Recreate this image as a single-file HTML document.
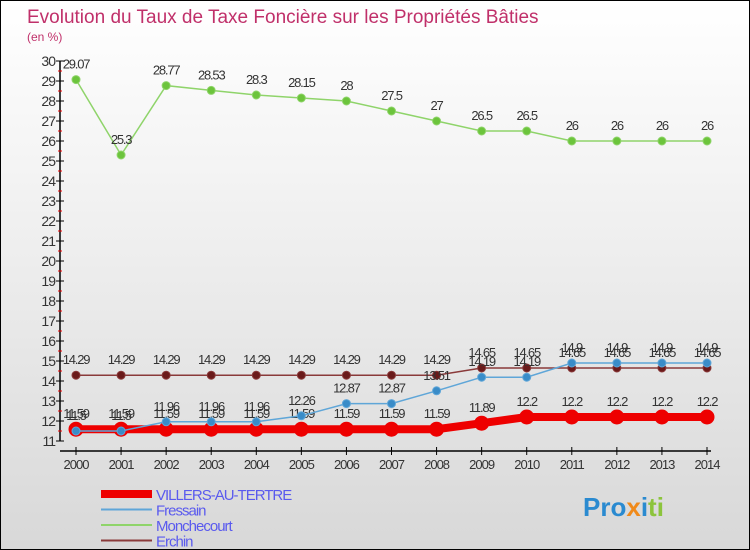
<!DOCTYPE html>
<html><head><meta charset="utf-8"><style>
body{margin:0}
#c{width:748px;height:548px;border:1px solid #000;background:linear-gradient(#fff,#f4f4f4 30%,#d8d8d8);position:relative;overflow:hidden;font-family:"Liberation Sans",sans-serif}
</style></head><body>
<div id="c">
<svg id="s" width="748" height="548" xmlns="http://www.w3.org/2000/svg" style="position:absolute;left:0;top:0">
<text x="26" y="22" font-size="19" fill="#c0306a">Evolution du Taux de Taxe Foncière sur les Propriétés Bâties</text>
<text x="26" y="40" font-size="12" fill="#c0306a">(en %)</text>
</svg>
</div>
<script>
const years=[2000,2001,2002,2003,2004,2005,2006,2007,2008,2009,2010,2011,2012,2013,2014];
const villers=[11.59,11.59,11.59,11.59,11.59,11.59,11.59,11.59,11.59,11.89,12.2,12.2,12.2,12.2,12.2];
const fressain=[11.5,11.5,11.96,11.96,11.96,12.26,12.87,12.87,13.51,14.19,14.19,14.9,14.9,14.9,14.9];
const monchecourt=[29.07,25.3,28.77,28.53,28.3,28.15,28,27.5,27,26.5,26.5,26,26,26,26];
const erchin=[14.29,14.29,14.29,14.29,14.29,14.29,14.29,14.29,14.29,14.65,14.65,14.65,14.65,14.65,14.65];
const yTicks=[11,12,13,14,15,16,17,18,19,20,21,22,23,24,25,26,27,28,29,30];
const NS="http://www.w3.org/2000/svg",s=document.getElementById('s');
const X=i=>75+i*(631/14), Y=v=>60+(30-v)*20;
function el(t,a,p){const e=document.createElementNS(NS,t);for(const k in a)e.setAttribute(k,a[k]);(p||s).appendChild(e);return e;}
const ax=el('g',{});


el('line',{x1:59,y1:Y(30),x2:59,y2:Y(11),stroke:'#000','stroke-width':1.5},ax);
el('line',{x1:59,y1:450,x2:710,y2:450,stroke:'#000','stroke-width':1.5},ax);
yTicks.forEach(v=>{
 el('line',{x1:55,y1:Y(v),x2:63,y2:Y(v),stroke:'#000'},ax);
 if(v<30) el('line',{x1:57,y1:Y(v+0.5),x2:61,y2:Y(v+0.5),stroke:'#e00'},ax);
 const t=el('text',{x:54,y:Y(v)+5,'font-size':14,fill:'#333','text-anchor':'end','letter-spacing':'-1'},ax);t.textContent=v;
 
 
});
years.forEach((yr,i)=>{
 el('line',{x1:X(i),y1:446,x2:X(i),y2:454,stroke:'#000'},ax);
 const t=el('text',{x:X(i),y:468,'font-size':13,fill:'#333','text-anchor':'middle','letter-spacing':'-1'},ax);t.textContent=yr;
 
 
});
function series(name,data,color,w,r,dot){
 const g=el('g',{});
 
 
 el('polyline',{points:data.map((v,i)=>X(i)+','+Y(v)).join(' '),fill:'none',stroke:color,'stroke-width':w},g);
 data.forEach((v,i)=>{
  const c=el('circle',{cx:X(i),cy:Y(v),r:r,fill:dot,stroke:color},g);
  
  
  const t=el('text',{x:X(i),y:Y(v)-11,'font-size':13,fill:'#333','text-anchor':'middle','letter-spacing':'-1.2'},g);t.textContent=v;
  
  
 });
}
series('monchecourt',monchecourt,'#8fd46a',1.5,4,'#6cc43c');
series('erchin',erchin,'#8a3a3a',1.5,4,'#6a1a1a');
series('villers',villers,'#ee0000',8,7,'#ee0000');
series('fressain',fressain,'#5fa6d8',1.5,4,'#3a8cc8');
const lg=el('g',{});


[['VILLERS-AU-TERTRE','#ee0000',8],['Fressain','#5fa6d8',2],['Monchecourt','#8fd46a',2],['Erchin','#8a3a3a',2]].forEach((d,i)=>{
 const y=493+i*15.5;
 el('line',{x1:100,y1:y,x2:151,y2:y,stroke:d[1],'stroke-width':d[2]},lg);
 const t=el('text',{x:155,y:y+6,'font-size':15,fill:'#5a5aee','letter-spacing':'-1'},lg);t.textContent=d[0];
 
 
});
const lo=el('text',{x:582,y:515,'font-size':26,'font-weight':'bold',fill:'#2a8ad0'});


lo.innerHTML='Pro<tspan fill="#f08a1a">x</tspan><tspan fill="#2a8ad0">i</tspan><tspan fill="#8cc43c">ti</tspan>';
</script>
</body></html>
